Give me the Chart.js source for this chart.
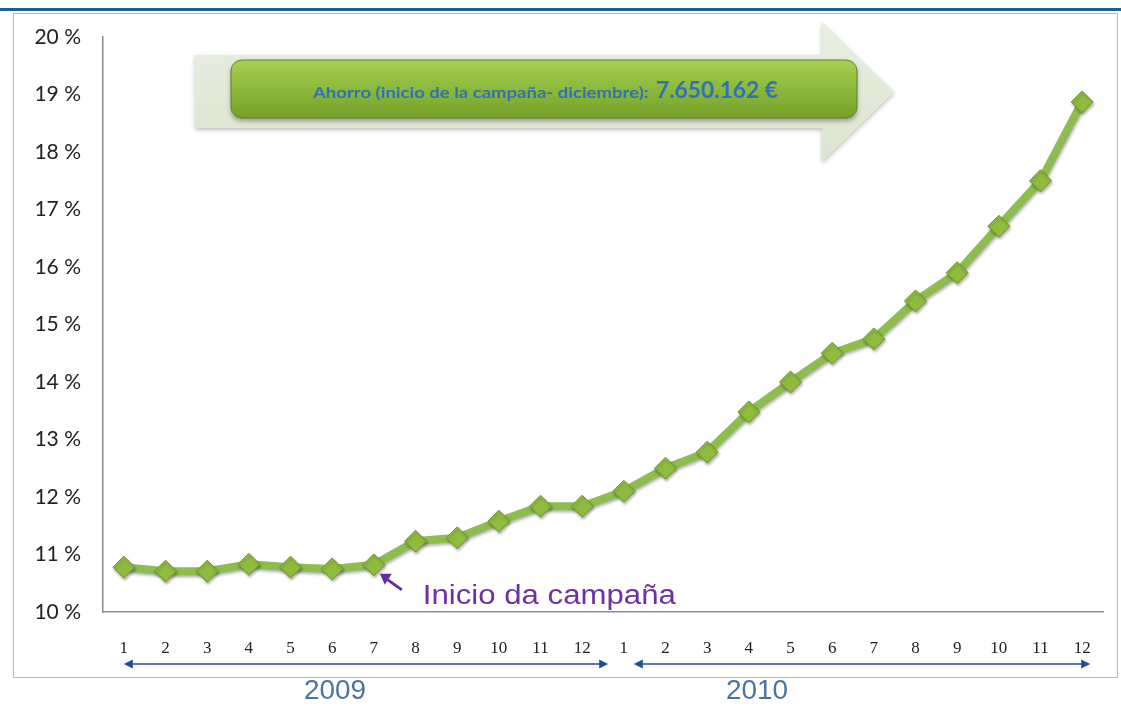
<!DOCTYPE html>
<html>
<head>
<meta charset="utf-8">
<script src="https://cdn.jsdelivr.net/npm/chart.js@4.4.1/dist/chart.umd.min.js"></script>
<style>
  html, body { margin: 0; padding: 0; background: #fff; }
  #wrap { width: 1121px; height: 708px; position: relative; }
</style>
</head>
<body>
<div id="wrap"><canvas id="ahorroChart" width="1121" height="708"></canvas></div>
<script>
// months of 2009 and 2010
const monthLabels = ['1','2','3','4','5','6','7','8','9','10','11','12',
                     '1','2','3','4','5','6','7','8','9','10','11','12'];
const yearLabels = ['2009', '2010'];
// percentage values
const savingValues = [10.78, 10.71, 10.71, 10.83, 10.78, 10.75, 10.82, 11.23, 11.29, 11.58, 11.84, 11.84,
                      12.10, 12.50, 12.78, 13.48, 14.00, 14.50, 14.75, 15.41, 15.90, 16.71, 17.50, 18.87];
const yMin = 10, yMax = 20;
const bannerText = 'Ahorro (inicio de la campaña- diciembre): ';
const bannerAmount = '7.650.162 €';
const noteText = 'Inicio da campaña';
const noteIndex = 6;

function drawArrowHead(ctx, x, y, dir) {
    ctx.beginPath();
    ctx.moveTo(x, y);
    ctx.lineTo(x - dir * 9, y - 4.5);
    ctx.lineTo(x - dir * 9, y + 4.5);
    ctx.closePath();
    ctx.fill();
}

// text squeezed/stretched to a given width (the original picture is stretched sideways)
function stretchText(ctx, text, x, y, width) {
    const w = ctx.measureText(text).width;
    ctx.save();
    ctx.translate(x, y);
    ctx.scale(width / w, 1);
    ctx.fillText(text, 0, 0);
    ctx.restore();
}

const decorations = {
    id: 'decorations',
    beforeDraw(chart) {
        const ctx = chart.ctx;
        ctx.save();
        // top blue rule and frame
        ctx.fillStyle = '#1d5f9c';
        ctx.fillRect(0, 8, 1121, 3);
        ctx.strokeStyle = '#b8b8b8';
        ctx.lineWidth = 1;
        ctx.strokeRect(13.5, 13.5, 1104, 664);
        ctx.restore();
    },
    afterDatasetsDraw(chart) {
        const ctx = chart.ctx;
        const xs = chart.scales.x;
        const ys = chart.scales.y;
        ctx.save();

        // big pale arrow behind the banner
        ctx.shadowColor = 'rgba(0,0,0,0.25)';
        ctx.shadowBlur = 4;
        ctx.shadowOffsetY = 2;
        const pg = ctx.createLinearGradient(0, 22, 0, 162);
        pg.addColorStop(0, '#e9efe2');
        pg.addColorStop(1, '#dbe4d0');
        ctx.fillStyle = pg;
        ctx.beginPath();
        ctx.moveTo(195, 55);
        ctx.lineTo(822, 55);
        ctx.lineTo(822, 22);
        ctx.lineTo(894, 92);
        ctx.lineTo(822, 162);
        ctx.lineTo(822, 128);
        ctx.lineTo(195, 128);
        ctx.closePath();
        ctx.fill();

        // green rounded box
        ctx.shadowColor = 'rgba(0,0,0,0.35)';
        ctx.shadowBlur = 5;
        ctx.shadowOffsetY = 3;
        const g = ctx.createLinearGradient(0, 60, 0, 118);
        g.addColorStop(0, '#a9d055');
        g.addColorStop(0.35, '#93c043');
        g.addColorStop(1, '#74a028');
        ctx.fillStyle = g;
        ctx.beginPath();
        ctx.roundRect(231, 60, 626, 58, 11);
        ctx.fill();
        ctx.shadowColor = 'transparent';
        ctx.strokeStyle = '#5f8a1c';
        ctx.lineWidth = 1;
        ctx.stroke();

        // banner text
        ctx.fillStyle = '#2e72b8';
        ctx.textBaseline = 'alphabetic';
        ctx.font = 'bold 16px Lato';
        stretchText(ctx, bannerText, 313, 98, 340);
        ctx.font = 'bold 22px Lato';
        stretchText(ctx, bannerAmount, 656, 98, 122);

        // note on the campaign start
        const px = xs.getPixelForValue(noteIndex);
        const py = ys.getPixelForValue(savingValues[noteIndex]);
        ctx.strokeStyle = '#6a2c9a';
        ctx.fillStyle = '#6a2c9a';
        ctx.lineWidth = 3;
        ctx.beginPath();
        ctx.moveTo(px + 28, py + 25);
        ctx.lineTo(px + 14, py + 15);
        ctx.stroke();
        ctx.beginPath();
        ctx.moveTo(px + 6, py + 9);
        ctx.lineTo(px + 18, py + 9);
        ctx.lineTo(px + 11, py + 20);
        ctx.closePath();
        ctx.fill();
        ctx.fillStyle = '#7030a0';
        ctx.font = '27px "Liberation Sans"';
        stretchText(ctx, noteText, px + 49, py + 39, 253);

        // year spans under the month ticks
        ctx.strokeStyle = '#1f4e9c';
        ctx.fillStyle = '#1f4e9c';
        ctx.lineWidth = 1.5;
        const arrowY = 664;
        const spans = [[xs.getPixelForValue(0), xs.getPixelForValue(11) + 26],
                       [xs.getPixelForValue(12) + 10, xs.getPixelForValue(23) + 8]];
        const yearCenters = [335, 757];
        spans.forEach((s, i) => {
            ctx.beginPath();
            ctx.moveTo(s[0] + 4, arrowY);
            ctx.lineTo(s[1] - 4, arrowY);
            ctx.stroke();
            drawArrowHead(ctx, s[0], arrowY, -1);
            drawArrowHead(ctx, s[1], arrowY, 1);
            ctx.save();
            ctx.fillStyle = '#4a73a6';
            ctx.font = '27px "Liberation Sans"';
            stretchText(ctx, yearLabels[i], yearCenters[i] - 31, 699, 62);
            ctx.restore();
        });
        ctx.restore();
    }
};

const pointShadow = {
    id: 'pointShadow',
    beforeDatasetDraw(chart) {
        const ctx = chart.ctx;
        ctx.save();
        ctx.shadowColor = 'rgba(0,0,0,0.3)';
        ctx.shadowBlur = 3;
        ctx.shadowOffsetX = 1;
        ctx.shadowOffsetY = 2;
    },
    afterDatasetDraw(chart) {
        chart.ctx.restore();
    }
};

new Chart(document.getElementById('ahorroChart'), {
    type: 'line',
    data: {
        labels: monthLabels,
        datasets: [{
            data: savingValues,
            borderColor: '#8dbd4f',
            borderWidth: 8,
            tension: 0,
            pointStyle: 'rectRot',
            pointRadius: 11,
            pointBackgroundColor: '#8fbc3f',
            pointBorderColor: '#6e9a2c',
            pointBorderWidth: 1
        }]
    },
    options: {
        responsive: false,
        animation: false,
        layout: { padding: { left: 13, top: 37, right: 18, bottom: 0 } },
        plugins: {
            legend: { display: false },
            tooltip: { enabled: false }
        },
        scales: {
            x: {
                offset: true,
                grid: { display: false, drawTicks: false },
                border: { display: true, color: '#8c8c8c', width: 1.5 },
                ticks: {
                    color: '#222',
                    font: { family: '"Liberation Serif"', size: 17 },
                    padding: 26,
                    maxRotation: 0,
                    autoSkip: false
                },
                afterFit(scale) { scale.height = 96; }
            },
            y: {
                min: yMin,
                max: yMax,
                grid: { display: false, drawTicks: false },
                border: { display: true, color: '#8c8c8c', width: 1.5 },
                ticks: {
                    stepSize: 1,
                    color: '#222',
                    font: { family: 'Lato', size: 21 },
                    padding: 22,
                    callback: v => v + ' %'
                },
                afterFit(scale) { scale.width = 90; }
            }
        }
    },
    plugins: [decorations, pointShadow]
});
</script>
</body>
</html>
